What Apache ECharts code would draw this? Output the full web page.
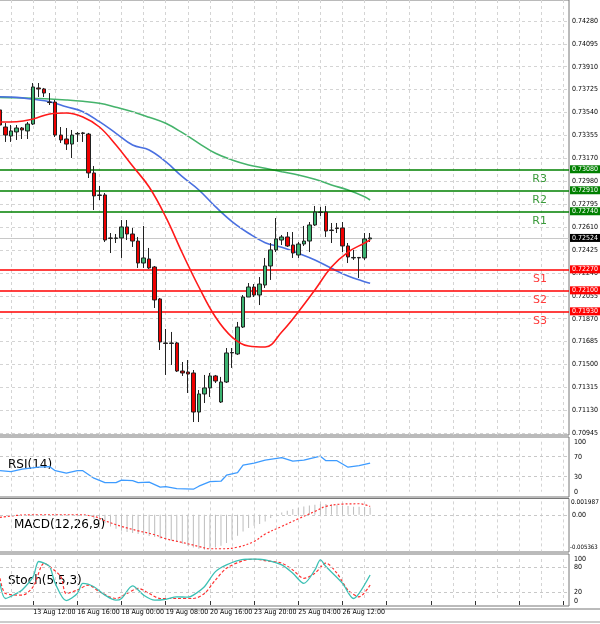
<!DOCTYPE html>
<html><head><meta charset="utf-8">
<script src="https://cdn.jsdelivr.net/npm/echarts@6/dist/echarts.min.js"></script>
<style>html,body{margin:0;padding:0;background:#fff}#c{width:600px;height:624px}</style>
</head><body><div id="c"></div>
<script>
// ---------- DATA ----------
const N = 104;
const tickIdx = [6,14,22,30,38,46,54,62];
const tickLabels = ['13 Aug 12:00','16 Aug 16:00','18 Aug 00:00','19 Aug 08:00','20 Aug 16:00','23 Aug 20:00','25 Aug 04:00','26 Aug 12:00'];
const priceTicks = ['0.74280','0.74095','0.73910','0.73725','0.73540','0.73355','0.73170','0.72980','0.72795','0.72610','0.72425','0.72240','0.72055','0.71870','0.71685','0.71500','0.71315','0.71130','0.70945'];
// [open, close, low, high]
const candles = [
[0.73560,0.73438,0.73333,0.73576],[0.73422,0.73357,0.73301,0.73454],[0.73349,0.73390,0.73301,0.73438],[0.73382,0.73414,0.73317,0.73438],
[0.73414,0.73398,0.73325,0.73422],[0.73390,0.73446,0.73325,0.73463],[0.73446,0.73746,0.73438,0.73778],[0.73738,0.73730,0.73665,0.73778],
[0.73730,0.73697,0.73665,0.73738],[0.73624,0.73620,0.73600,0.73697],[0.73624,0.73357,0.73341,0.73641],[0.73357,0.73317,0.73293,0.73422],
[0.73325,0.73284,0.73236,0.73414],[0.73284,0.73357,0.73171,0.73398],[0.73365,0.73370,0.73301,0.73382],[0.73374,0.73370,0.73301,0.73382],
[0.73365,0.73050,0.73009,0.73374],[0.73050,0.72864,0.72750,0.73106],[0.72872,0.72868,0.72831,0.72945],[0.72872,0.72507,0.72491,0.72888],
[0.72524,0.72520,0.72402,0.72564],[0.72520,0.72524,0.72483,0.72556],[0.72524,0.72613,0.72362,0.72669],[0.72613,0.72556,0.72507,0.72669],
[0.72556,0.72499,0.72451,0.72605],[0.72499,0.72321,0.72281,0.72532],[0.72321,0.72362,0.72281,0.72621],[0.72354,0.72281,0.72273,0.72443],
[0.72289,0.72022,0.71957,0.72297],[0.72030,0.71682,0.71617,0.72038],[0.71674,0.71670,0.71415,0.71787],[0.71670,0.71674,0.71496,0.71763],
[0.71674,0.71447,0.71439,0.71682],[0.71447,0.71431,0.71407,0.71520],[0.71439,0.71423,0.71269,0.71536],[0.71431,0.71115,0.71034,0.71455],
[0.71115,0.71261,0.71034,0.71293],[0.71261,0.71310,0.71188,0.71415],[0.71310,0.71407,0.71237,0.71431],[0.71407,0.71366,0.71350,0.71415],
[0.71196,0.71358,0.71188,0.71399],[0.71358,0.71593,0.71350,0.71633],[0.71593,0.71597,0.71472,0.71633],[0.71585,0.71803,0.71577,0.71844],
[0.71803,0.72046,0.71795,0.72062],[0.72046,0.72127,0.72046,0.72159],[0.72127,0.72062,0.72046,0.72151],[0.72062,0.72151,0.71981,0.72208],
[0.72143,0.72297,0.72119,0.72362],[0.72297,0.72427,0.72184,0.72483],[0.72427,0.72516,0.72410,0.72685],[0.72507,0.72532,0.72467,0.72548],
[0.72532,0.72459,0.72451,0.72572],[0.72467,0.72402,0.72362,0.72572],[0.72386,0.72475,0.72362,0.72491],[0.72475,0.72499,0.72459,0.72621],
[0.72499,0.72629,0.72410,0.72653],[0.72629,0.72734,0.72621,0.72783],[0.72734,0.72730,0.72702,0.72775],[0.72734,0.72580,0.72532,0.72783],
[0.72588,0.72584,0.72483,0.72645],[0.72605,0.72600,0.72564,0.72645],[0.72605,0.72459,0.72410,0.72653],[0.72459,0.72370,0.72321,0.72483],
[0.72362,0.72366,0.72346,0.72427],[0.72366,0.72362,0.72200,0.72370],[0.72362,0.72516,0.72346,0.72564],[0.72516,0.72524,0.72491,0.72564]
];
const maIdx = [0,3,6,9,12,15,18,21,24,27,30,33,36,39,42,45,48,51,54,57,60,63,66,67];
const maRed = [0.73463,0.73465,0.73487,0.73527,0.73535,0.73503,0.73422,0.73276,0.73106,0.72936,0.72694,0.72402,0.72127,0.71884,0.71722,0.71649,0.71641,0.71763,0.71925,0.72103,0.72289,0.72410,0.72483,0.72507];
const maBlue = [0.73667,0.73662,0.73646,0.73627,0.73586,0.73546,0.73465,0.73371,0.73276,0.73236,0.73141,0.73020,0.72912,0.72777,0.72656,0.72562,0.72486,0.72448,0.72400,0.72346,0.72278,0.72216,0.72170,0.72157];
const maGreen = [0.73662,0.73659,0.73654,0.73649,0.73641,0.73630,0.73614,0.73582,0.73546,0.73501,0.73452,0.73376,0.73290,0.73209,0.73155,0.73115,0.73088,0.73060,0.73034,0.72999,0.72953,0.72912,0.72858,0.72831];
const levelNames = ['R3','R2','R1','S1','S2','S3'];
const levelValues = [0.73080,0.72910,0.72740,0.72270,0.72100,0.71930];
const lastPrice = 0.72524;
const rsiIdx = [0,2,4,7,9,10,12,14,15,17,19,21,22,24,25,27,29,30,32,35,36,38,40,41,43,44,46,48,51,53,55,58,59,61,63,65,67];
const rsiVal = [42,40,45,49,50,42,37,42,42,27,18,18,23,22,18,19,9,10,6,5,11,20,21,33,38,53,57,63,68,61,63,71,62,62,49,52,57];
const macdHistIdx = [17,18,19,20,21,22,23,24,25,26,27,28,29,30,31,32,33,34,35,36,37,38,39,40,41,42,43,44,45,46,47,48,49,50,51,52,53,54,55,56,57,58,59,60,61,62,63,64,65,66,67];
const macdHist = [-0.00066,-0.00110,-0.00137,-0.00192,-0.00231,-0.00264,-0.00285,-0.00302,-0.00318,-0.00335,-0.00351,-0.00368,-0.00390,-0.00412,-0.00428,-0.00450,-0.00478,-0.00511,-0.00538,-0.00560,-0.00576,-0.00560,-0.00538,-0.00511,-0.00467,-0.00412,-0.00346,-0.00275,-0.00220,-0.00181,-0.00154,-0.00110,-0.00055,0.00005,0.00038,0.00066,0.00093,0.00115,0.00137,0.00154,0.00165,0.00176,0.00176,0.00170,0.00165,0.00154,0.00143,0.00132,0.00132,0.00126,0.00121];
const macdSigIdx = [0,3,7,14,17,19,22,25,28,30,33,36,38,40,43,46,48,51,54,57,59,62,65,67];
const macdSig = [-0.00044,-0.00011,0,0,-0.00027,-0.00099,-0.00192,-0.00264,-0.00329,-0.00395,-0.00456,-0.00522,-0.00560,-0.00560,-0.00533,-0.00439,-0.00318,-0.00192,-0.00066,0.00055,0.00137,0.00176,0.00181,0.00137];
const stMainIdx = [0,1,3,4,6,7,8,9,10,12,14,15,17,19,21,22,24,26,28,30,32,34,35,37,39,41,44,46,48,51,53,55,57,58,59,62,64,65,67];
const stMain = [42,6,18,26,58,94,90,82,42,1,18,42,34,14,2,6,36,14,2,4,10,9,14,34,70,86,99,100,98,86,66,42,74,98,82,42,6,18,62];
const stSigIdx = [0,1,4,6,8,9,11,12,14,16,18,21,23,25,27,29,32,35,37,39,41,44,46,48,51,53,55,57,59,61,63,65,67];
const stSig = [54,18,14,34,90,82,58,18,26,38,22,6,18,30,18,6,6,6,18,50,78,96,100,96,90,74,54,66,90,66,26,10,38];

// ---------- BUILD ----------
const cats = Array.from({length:N},(_,k)=> 'b'+k);
const labelOf = {}; tickIdx.forEach((k,i)=>labelOf['b'+k]=tickLabels[i]);
const pair = (ix, v) => ix.map((k,i)=>[k, v[i]]);
const FONT = 'DejaVu Sans';
const NARROW = '"DejaVu Sans Condensed", "Liberation Sans Narrow", "Liberation Sans"';
const GL = 0, GR = 31;
const grids = [
  {left:GL,right:GR,top:0,height:435},
  {left:GL,right:GR,top:441.7,height:50},
  {left:GL,right:GR,top:501.4,height:49.8},
  {left:GL,right:GR,top:559,height:42}
];
const frames = [[0,435],[437,497],[498.5,552],[554,606]];
const xAxes = grids.map((g,i)=>({
  type:'category', gridIndex:i, data:cats, boundaryGap:false,
  axisLine:{show:false},
  axisTick:{show:i===3, interval:(k)=>k%8===6, length:4, lineStyle:{color:'#333'}},
  axisLabel:{show:i===3, interval:(k)=>k%8===6, showMinLabel:true, hideOverlap:false, align:'left', fontSize:7, fontFamily:NARROW, color:'#000', margin:8, formatter:v=>labelOf[v]||''},
  splitLine:{show:true, interval:(k)=>k%4===2, lineStyle:{color:'#d4d4d4', type:[3,3]}}
}));
const lab = {fontSize:7, fontFamily:NARROW, color:'#000'};
const yAxes = [
  {gridIndex:0, type:'value', min:0.70929, max:0.74450, position:'right', axisLabel:{show:false}, splitLine:{show:false}, axisLine:{show:false}, axisTick:{show:false}},
  {gridIndex:1, type:'value', min:0, max:100, interval:10, position:'right', axisLabel:Object.assign({formatter:v=>[0,30,70,100].includes(v)?String(v):'', margin:5},lab), splitLine:{show:false}, axisLine:{show:false}, axisTick:{show:false}},
  {gridIndex:2, type:'value', min:-0.0060, max:0.0022, position:'right', axisLabel:{show:false}, splitLine:{show:false}, axisLine:{show:false}, axisTick:{show:false}},
  {gridIndex:3, type:'value', min:0, max:100, interval:10, position:'right', axisLabel:Object.assign({formatter:v=>[0,20,80,100].includes(v)?String(v):'', margin:5},lab), splitLine:{show:false}, axisLine:{show:false}, axisTick:{show:false}}
];
const HIDDEN = {color:'rgba(0,0,0,0)', width:0};
const endLab = (extra)=>Object.assign({position:'end', distance:3, fontSize:7, fontFamily:NARROW, color:'#000', formatter:p=>p.name},extra||{});
const gridML = priceTicks.map(t=>({yAxis:parseFloat(t), name:t, lineStyle:{color:'#d4d4d4', type:[3,3], width:1}, label:endLab()}));
const lvlML = [];
levelValues.forEach((v,i)=>{
  const isR = levelNames[i][0]==='R';
  const c = isR ? '#008000' : '#ff0000';
  lvlML.push({yAxis:v, name:v.toFixed(5), lineStyle:{color:c, width:1.5, type:'solid'},
    label:endLab({backgroundColor:c, color:'#fff', padding:[1,2,0,2], distance:1})});
  lvlML.push({yAxis:v, name:levelNames[i], lineStyle:HIDDEN,
    label:{position:'insideEndBottom', distance:[22,4], fontSize:11, fontFamily:FONT, color:isR?'#3a9a3a':'#ff3b3b', formatter:p=>p.name}});
});
lvlML.push({yAxis:lastPrice, name:lastPrice.toFixed(5), lineStyle:{color:'#c8c8c8', width:1, type:'solid'},
  label:endLab({backgroundColor:'#000', color:'#fff', padding:[1,2,0,2], distance:1})});

const series = [
  {type:'line', xAxisIndex:0, yAxisIndex:0, data:pair(maIdx,maGreen), smooth:0.4, symbol:'none', lineStyle:{color:'#45b36b', width:1.6}, z:3,
   markLine:{symbol:'none', silent:true, animation:false, precision:5, data:gridML}},
  {type:'line', xAxisIndex:0, yAxisIndex:0, data:pair(maIdx,maBlue), smooth:0.4, symbol:'none', lineStyle:{color:'#4a70e0', width:1.6}, z:3,
   markLine:{symbol:'none', silent:true, animation:false, precision:5, data:lvlML}},
  {type:'candlestick', xAxisIndex:0, yAxisIndex:0, data:candles, barWidth:4, z:5,
   itemStyle:{color:'#3cb371', color0:'#ee0000', borderColor:'#222', borderColor0:'#222', borderWidth:1}},
  {type:'line', xAxisIndex:0, yAxisIndex:0, data:pair(maIdx,maRed), smooth:0.4, symbol:'none', lineStyle:{color:'#ff1a1a', width:1.6}, z:6},
  // RSI
  {type:'line', xAxisIndex:1, yAxisIndex:1, data:pair(rsiIdx,rsiVal), symbol:'none', lineStyle:{color:'#3d9bff', width:1.3},
   markLine:{symbol:'none', silent:true, label:{show:false}, lineStyle:{color:'#c8c8c8', type:[3,3], width:1}, data:[{yAxis:70},{yAxis:30}]}},
  // MACD
  {type:'bar', xAxisIndex:2, yAxisIndex:2, data:pair(macdHistIdx,macdHist), barWidth:1, itemStyle:{color:'#bdbdbd'},
   markLine:{symbol:'none', silent:true, precision:6, data:[
     {yAxis:0.001987, name:'0.001987', lineStyle:HIDDEN, label:endLab({fontSize:6.5, distance:2})},
     {yAxis:0, name:'0.00', lineStyle:{color:'#c8c8c8', type:[3,3], width:1}, label:endLab()},
     {yAxis:-0.005363, name:'-0.005363', lineStyle:HIDDEN, label:endLab({fontSize:6, distance:1})}]}},
  {type:'line', xAxisIndex:2, yAxisIndex:2, data:pair(macdSigIdx,macdSig), smooth:0.4, symbol:'none', lineStyle:{color:'#ff3030', width:1.2, type:[2,2]}},
  // Stoch
  {type:'line', xAxisIndex:3, yAxisIndex:3, data:pair(stSigIdx,stSig), smooth:0.3, symbol:'none', lineStyle:{color:'#ff3030', width:1.2, type:[3,2]},
   markLine:{symbol:'none', silent:true, label:{show:false}, lineStyle:{color:'#c8c8c8', type:[3,3], width:1}, data:[{yAxis:80},{yAxis:20}]}},
  {type:'line', xAxisIndex:3, yAxisIndex:3, data:pair(stMainIdx,stMain), smooth:0.3, symbol:'none', lineStyle:{color:'#3cc0b4', width:1.3}}
];
const graphics = [];
frames.forEach(f=>graphics.push({type:'rect', shape:{x:-1, y:f[0], width:570, height:f[1]-f[0]}, style:{fill:'none', stroke:'#777', lineWidth:1}, silent:true}));
graphics.push({type:'line', shape:{x1:0,y1:609,x2:600,y2:609}, style:{stroke:'#777'}});
graphics.push({type:'line', shape:{x1:0,y1:622,x2:600,y2:622}, style:{stroke:'#999'}});
[['RSI(14)',8,465],['MACD(12,26,9)',14,525],['Stoch(5,5,3)',8,581]].forEach(t=>graphics.push({type:'text', x:t[1], y:t[2], style:{text:t[0], fontSize:12, fontFamily:FONT, fill:'#000', textVerticalAlign:'middle'}}));

const chart = echarts.init(document.getElementById('c'), null, {renderer:'canvas'});
chart.setOption({animation:false, grid:grids, xAxis:xAxes, yAxis:yAxes, series:series, graphic:graphics});
</script></body></html>
